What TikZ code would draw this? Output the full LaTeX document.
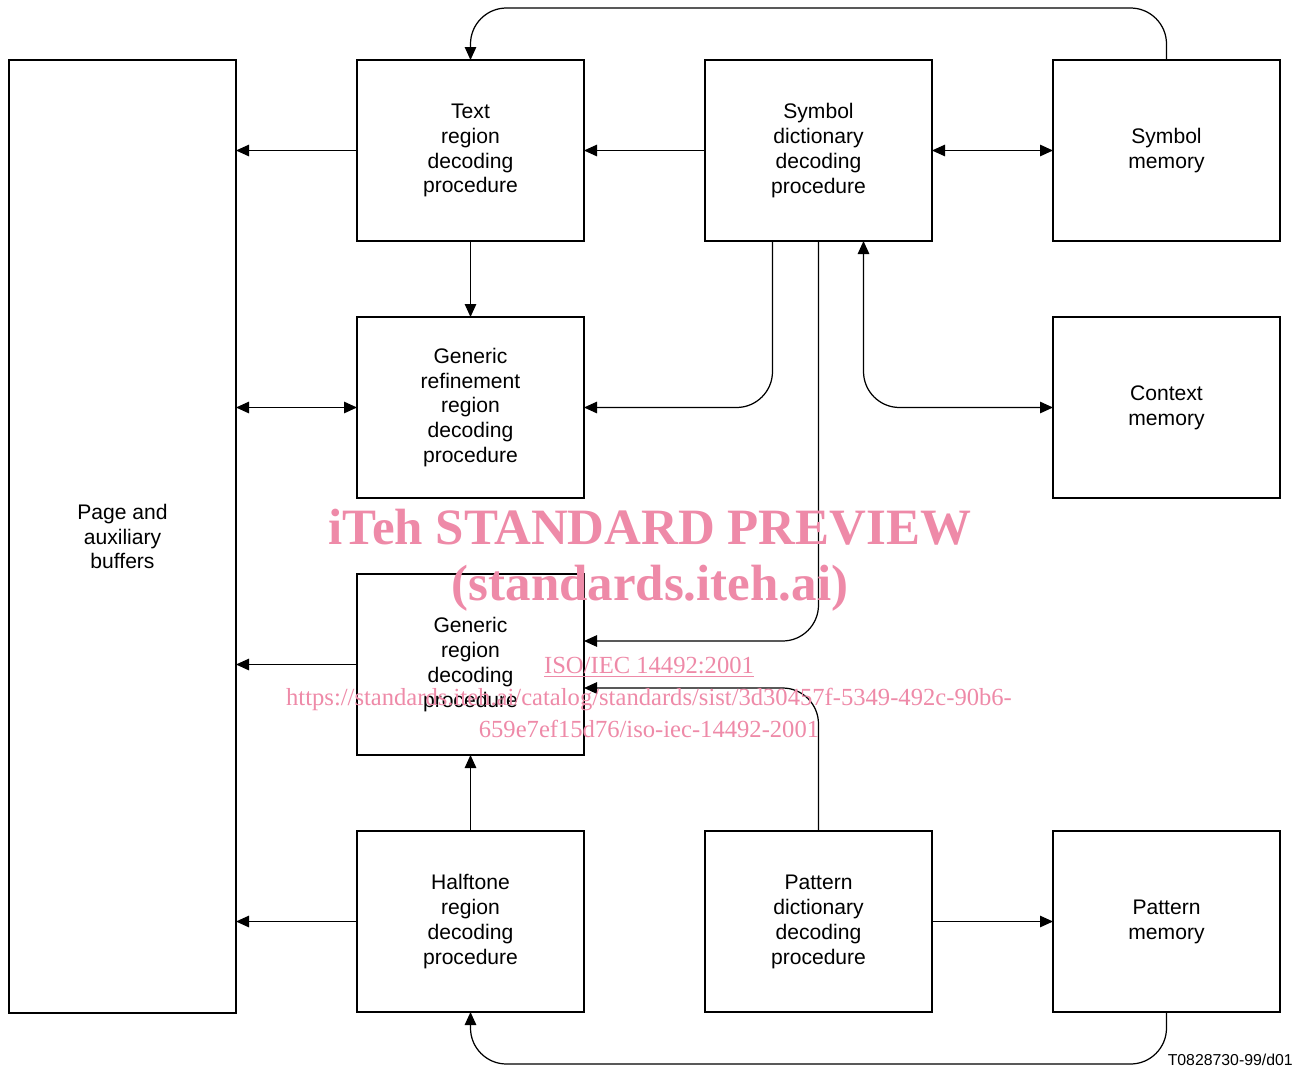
\documentclass[tikz,border=0pt]{standalone}
\usepackage{fontspec}
\setmainfont{Liberation Sans}
\newfontfamily\marcafont{Liberation Serif}
\usetikzlibrary{positioning,arrows.meta}
\definecolor{rosa}{RGB}{238,138,168}
\tikzset{
	caja/.style={rectangle, draw=black, line width=0.6pt, outer sep=0pt, minimum width=4.54cm,
		minimum height=3.62cm, align=center, font=\fontsize{12}{14.2}\selectfont},
	bufer/.style={caja, minimum height=19.06cm},
	flecha/.style={line width=0.7pt, -{Triangle[length=0.26cm,width=0.23cm]}},
	flecha2/.style={line width=0.7pt, {Triangle[length=0.26cm,width=0.23cm]}-{Triangle[length=0.26cm,width=0.23cm]}},
	marca/.style={text=rosa, font=\marcafont\bfseries\fontsize{29}{29}\selectfont},
	marcachica/.style={text=rosa, align=center, font=\marcafont\fontsize{14}{18.2}\selectfont}
}

\begin{document}
\begin{tikzpicture}[node distance=1.52cm and 2.42cm]
			\useasboundingbox (0,0) rectangle (26.06,-21.36);
			
			\node[caja] (texto) at (9.41,-3.01) {Text\\region\\decoding\\procedure};
			\node[caja, right=of texto] (dicsim) {Symbol\\dictionary\\decoding\\procedure};
			\node[caja, right=of dicsim] (memsim) {Symbol\\memory};
			\node[caja, below=of texto] (refin) {Generic\\refinement\\region\\decoding\\procedure};
			\node[caja, below=of memsim] (memctx) {Context\\memory};
			\node[caja, below=of refin] (generica) {Generic\\region\\decoding\\procedure};
			\node[caja, below=of generica] (semitono) {Halftone\\region\\decoding\\procedure};
			\node[caja, right=of semitono] (dicpat) {Pattern\\dictionary\\decoding\\procedure};
			\node[caja, right=of dicpat] (mempat) {Pattern\\memory};
			\node[bufer, anchor=north east] (pagina) at ([xshift=-2.42cm]texto.north west) {Page and\\auxiliary\\buffers};
			
			\draw[flecha] (texto.west) -- (texto.west -| pagina.east);
			\draw[flecha] (dicsim.west) -- (texto.east);
			\draw[flecha2] (dicsim.east) -- (memsim.west);
			\draw[flecha, rounded corners=0.72cm] (memsim.north) -- ++(0,1.04) -| (texto.north);
			\draw[flecha] (texto.south) -- (refin.north);
			\draw[flecha2] (refin.west) -- (refin.west -| pagina.east);
			\draw[flecha, rounded corners=0.72cm] ([xshift=-0.92cm]dicsim.south) |- (refin.east);
			\draw[flecha2, rounded corners=0.72cm] ([xshift=0.9cm]dicsim.south) |- (memctx.west);
			\draw[flecha, rounded corners=0.72cm] (dicsim.south) |- ([yshift=0.47cm]generica.east);
			\draw[flecha, rounded corners=0.72cm] (dicpat.north) |- ([yshift=-0.47cm]generica.east);
			\draw[flecha] (generica.west) -- (generica.west -| pagina.east);
			\draw[flecha] (semitono.north) -- (generica.south);
			\draw[flecha] (semitono.west) -- (semitono.west -| pagina.east);
			\draw[flecha] (dicpat.east) -- (mempat.west);
			\draw[flecha, rounded corners=0.72cm] (mempat.south) -- ++(0,-1.04) -| (semitono.south);
			
			\node[anchor=base east, inner sep=0pt, font=\fontsize{9}{10}\selectfont] (codigo) at (25.86,-21.3) {T0828730-99/d01};
			
			\node[marca] (marca1) at (13.0,-10.54) {iTeh STANDARD PREVIEW};
			\node[marca] (marca2) at (13.0,-11.76) {(standards.iteh.ai)};
			\node[marcachica] (marca3) at (12.98,-13.94) {\underline{ISO/IEC 14492:2001}\\https://standards.iteh.ai/catalog/standards/sist/3d30457f-5349-492c-90b6-\\659e7ef15d76/iso-iec-14492-2001};
		\end{tikzpicture}
\end{document}
